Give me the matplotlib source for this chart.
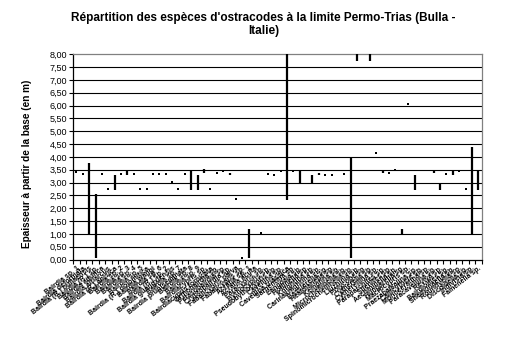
import numpy as np
import matplotlib
matplotlib.use("Agg")
import matplotlib.pyplot as plt

# species (categories), in the order of the x axis
species = [
    "Bairdia sp. 1", "Bairdia deformata", "Bairdia (R.) bullaensis", "Bairdia (R.) sp.",
    "Bairdia adunca", "Bairdia altiarcus", "Bairdia (R.) anisica", "Bairdia sp. 2",
    "Bairdia sp. 3", "Bairdia sp. 4", "Bairdia sp. 5", "Bairdia (R.) dolomitica",
    "Bairdia wangi", "Bairdia sp. 6", "Bairdia (R.) sp. 2", "Bairdia guangxiensis",
    "Bairdia sp. 7", "Bairdia pruniseminata", "Bairdia sp. 8", "Bairdia sp. 9",
    "Bairdiacypris sp.", "Bairdiacypris fornicata", "Orthobairdia sp.", "Petasobairdia sp.",
    "Cryptobairdia sp.", "Fabalicypris parva", "Fabalicypris sp.", "Acratia sp. 1",
    "Acratia acuta", "Paracypris sp.", "Bythocypris sp.", "Pseudobythocypris sp.",
    "Cavellina sp.", "Cavellina triassica", "Sargentina sp.", "Langdaia sp.",
    "Hollinella sp.", "Knightina sp.", "Carinaknightina sp.", "Basslerella sp.",
    "Healdianella sp.", "Kempfina sp.", "Microcheilinella sp.", "Spinomicrocheilinella sp.",
    "Liuzhinia sp.", "Polycope sp.", "Cytherella sp.", "Cytherellina sp.",
    "Paraparchites sp.", "Silenites sp.", "Aechminella sp.", "Hungarella sp.",
    "Macrocypris sp.", "Praezabaikalina sp.", "Callicythere sp.", "Monoceratina sp.",
    "Paracavellina sp.", "Reviya sp.", "Bairdiolites sp.", "Shemonaella sp.",
    "Roundyella sp.", "Discoidella sp.", "Indivisia sp.", "Famenella sp.",
]

# lowest and highest occurrence (m above base); nan = no record
low = [
    3.40, 3.32, 1.00, 0.05, 3.33, 2.75, 2.72, 3.33, 3.29, 3.33,
    2.74, 2.74, 3.32, 3.32, 3.34, 3.02, 2.74, 3.32, 2.72, 2.72,
    3.36, 2.73, 3.38, 3.46, 3.28, 2.34, 0.07, 0.04, np.nan, 1.04,
    3.33, 3.30, 3.46, 2.33, 3.46, 3.00, np.nan, 3.00, 3.28, 3.30,
    3.30, np.nan, 3.32, 0.05, 7.75, np.nan, 7.75, 4.15, 3.36, 3.39,
    3.47, 1.00, 6.05, 2.72, np.nan, np.nan, 3.36, 2.72, 3.32, 3.28,
    3.46, 2.74, 1.00, 2.72,
]
high = [
    3.40, 3.32, 3.78, 2.55, 3.33, 2.75, 3.30, 3.33, 3.46, 3.33,
    2.74, 2.74, 3.32, 3.32, 3.34, 3.02, 2.74, 3.32, 3.49, 3.30,
    3.52, 2.73, 3.38, 3.46, 3.38, 2.34, 0.07, 1.17, np.nan, 1.04,
    3.33, 3.30, 3.46, 8.00, 3.46, 3.46, np.nan, 3.30, 3.38, 3.30,
    3.30, np.nan, 3.32, 3.95, 8.00, np.nan, 8.00, 4.15, 3.49, 3.39,
    3.47, 1.17, 6.05, 3.30, np.nan, np.nan, 3.49, 3.00, 3.32, 3.50,
    3.46, 2.74, 4.40, 3.49,
]

low = np.array(low)
high = np.array(high)
x = np.arange(len(species))

plt.rcParams['font.family'] = ['Liberation Sans', 'DejaVu Sans']

fig = plt.figure(figsize=(5.05, 3.41), dpi=100)
ax = fig.add_axes([0.145, 0.239, 0.8085, 0.602])

# horizontal gridlines
for g in np.arange(0.5, 8.0, 0.5):
    ax.axhline(g, color="black", lw=0.8, zorder=1)

# ranges as thick vertical lines, single levels as small squares
rng = high > low
ax.vlines(x[rng], low[rng], high[rng], color="black", lw=1.6, zorder=3)
pt = high == low
ax.plot(x[pt], low[pt], ls="none", marker="s", ms=1.6, mew=0, color="black", zorder=3)

ax.set_xlim(-0.5, len(species) - 0.5)
ax.set_ylim(0, 8)
ax.set_yticks(np.arange(0, 8.01, 0.5))
ax.set_yticklabels([("%.2f" % v).replace(".", ",") for v in np.arange(0, 8.01, 0.5)],
                   fontsize=6.5)
ax.tick_params(axis="y", length=3, width=0.8, pad=1.5)

# category boundary ticks + labels at centres
ax.set_xticks(np.arange(-0.5, len(species), 1.0))
ax.set_xticklabels([])
ax.tick_params(axis="x", length=3, width=0.8)
ax.set_xticks(x, minor=True)
ax.set_xticklabels(species, minor=True, rotation=38, ha="right", va="top",
                   rotation_mode="anchor", fontsize=5, fontweight="bold")
ax.tick_params(axis="x", which="minor", length=0, pad=4)

for s in ["top", "right"]:
    ax.spines[s].set_color("#808080")
    ax.spines[s].set_linewidth(0.9)
for s in ["left", "bottom"]:
    ax.spines[s].set_color("black")
    ax.spines[s].set_linewidth(0.9)

fig.text(0.522, 0.965, "Répartition des espèces d'ostracodes à la limite Permo-Trias (Bulla -\nItalie)",
         ha="center", va="top", fontsize=8.5, fontweight="bold", linespacing=1.15)
fig.text(0.053, 0.52, "Epaisseur à partir de la base (en m)", rotation=90,
         ha="center", va="center", fontsize=7.2, fontweight="bold")

fig.savefig("out.png", dpi=100)
